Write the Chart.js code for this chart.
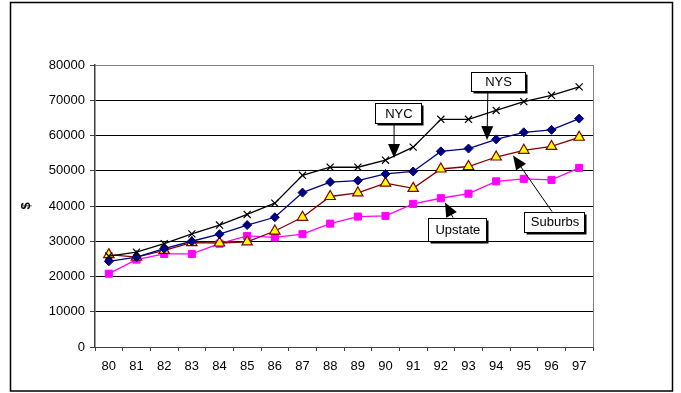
<!DOCTYPE html>
<html>
<head>
<meta charset="utf-8">
<script src="https://cdn.jsdelivr.net/npm/chart.js@4/dist/chart.umd.min.js"></script>
<style>
    body { margin: 0; background: #fff; }
    #wrap { width: 681px; height: 393px; }
</style>
</head>
<body>
<div id="wrap"><canvas id="income-chart" width="681" height="393"></canvas></div>
<script>
const years = ['80', '81', '82', '83', '84', '85', '86', '87', '88', '89', '90', '91', '92', '93', '94', '95', '96', '97'];

const nyc = [25800, 26900, 29300, 32100, 34600, 37600, 40800, 48700, 51000, 51000, 53000, 56700, 64600, 64600, 67100, 69600, 71400, 73800];
const nys = [24300, 25500, 27900, 30000, 32000, 34600, 36800, 43800, 46800, 47200, 49100, 49800, 55500, 56300, 58900, 60900, 61600, 64800];
const suburbs = [26200, 25500, 27400, 29600, 29500, 29800, 32900, 36800, 42700, 43700, 46500, 45000, 50500, 51200, 53900, 55800, 56900, 59500];
const upstate = [20800, 24800, 26400, 26400, 29300, 31500, 31100, 32000, 35000, 37000, 37200, 40600, 42200, 43500, 47000, 47700, 47400, 50800];

const yTicks = [0, 10000, 20000, 30000, 40000, 50000, 60000, 70000, 80000];

// callout boxes: box centre and arrow in data units (category index, value)
const callouts = [
    { text: 'NYC', box: [10.45, 66300], w: 46, h: 20, from: [10.31, 63500], to: [10.31, 53600] },
    { text: 'NYS', box: [14.05, 75200], w: 54, h: 19, from: [13.70, 72600], to: [13.67, 58700] },
    { text: 'Upstate', box: [12.58, 33400], w: 58, h: 23, from: [12.44, 36700], to: [12.15, 41000] },
    { text: 'Suburbs', box: [16.09, 35600], w: 60, h: 20, from: [16.02, 38400], to: [14.61, 54300] }
];

const FONT = "'Liberation Sans', Arial, sans-serif";

function arrow(ctx, x1, y1, x2, y2) {
    const ang = Math.atan2(y2 - y1, x2 - x1);
    const len = 14, half = 6;
    ctx.strokeStyle = '#000';
    ctx.lineWidth = 1;
    ctx.beginPath();
    ctx.moveTo(x1, y1);
    ctx.lineTo(x2 - Math.cos(ang) * len * 0.8, y2 - Math.sin(ang) * len * 0.8);
    ctx.stroke();
    ctx.fillStyle = '#000';
    ctx.beginPath();
    ctx.moveTo(x2, y2);
    ctx.lineTo(x2 - Math.cos(ang) * len - Math.sin(ang) * half, y2 - Math.sin(ang) * len + Math.cos(ang) * half);
    ctx.lineTo(x2 - Math.cos(ang) * len + Math.sin(ang) * half, y2 - Math.sin(ang) * len - Math.cos(ang) * half);
    ctx.closePath();
    ctx.fill();
}

const decorations = {
    id: 'decorations',
    beforeDraw(chart) {
        const ctx = chart.ctx;
        ctx.save();
        ctx.fillStyle = '#fff';
        ctx.fillRect(0, 0, chart.width, chart.height);
        // outer frame
        ctx.strokeStyle = '#000';
        ctx.lineWidth = 1.5;
        ctx.strokeRect(10.5, 2.5, 662, 388.5);
        ctx.restore();
    },
    afterDatasetsDraw(chart) {
        const ctx = chart.ctx;
        const a = chart.chartArea;
        const xs = chart.scales.x, ys = chart.scales.y;
        ctx.save();
        // right border of plot area
        ctx.strokeStyle = '#808080';
        ctx.lineWidth = 1;
        ctx.beginPath();
        ctx.moveTo(a.right + 0.5, a.top);
        ctx.lineTo(a.right + 0.5, a.bottom);
        ctx.stroke();

        // y title
        ctx.fillStyle = '#000';
        ctx.font = 'bold 13px ' + FONT;
        ctx.textAlign = 'center';
        ctx.textBaseline = 'middle';
        ctx.translate(26, (a.top + a.bottom) / 2);
        ctx.rotate(-Math.PI / 2);
        ctx.fillText('$', 0, 0);
        ctx.setTransform(1, 0, 0, 1, 0, 0);

        callouts.forEach(c => {
            const bx = xs.getPixelForValue(c.box[0]);
            const by = ys.getPixelForValue(c.box[1]);
            arrow(ctx, xs.getPixelForValue(c.from[0]), ys.getPixelForValue(c.from[1]),
                xs.getPixelForValue(c.to[0]), ys.getPixelForValue(c.to[1]));
            const l = Math.round(bx - c.w / 2) + 0.5, t = Math.round(by - c.h / 2) + 0.5;
            // shadow
            ctx.fillStyle = '#000';
            ctx.fillRect(l + 2, t + 2, c.w, c.h);
            ctx.fillStyle = '#fff';
            ctx.fillRect(l, t, c.w, c.h);
            ctx.strokeStyle = '#000';
            ctx.lineWidth = 1;
            ctx.strokeRect(l, t, c.w, c.h);
            ctx.fillStyle = '#000';
            ctx.font = '13px ' + FONT;
            ctx.textAlign = 'center';
            ctx.textBaseline = 'middle';
            ctx.fillText(c.text, bx + 1, by + 1);
        });
        ctx.restore();
    }
};

new Chart(document.querySelector('#income-chart').getContext('2d'), {
    type: 'line',
    data: {
        labels: years,
        datasets: [
            {
                label: 'NYC', data: nyc, borderColor: '#000', borderWidth: 1.3,
                pointStyle: 'crossRot', pointRadius: 5, pointBorderColor: '#000', pointBorderWidth: 1.2
            },
            {
                label: 'NYS', data: nys, borderColor: '#000080', borderWidth: 1.3,
                pointStyle: 'rectRot', pointRadius: 4.5, pointBackgroundColor: '#000080', pointBorderColor: '#000080', pointBorderWidth: 1
            },
            {
                label: 'Suburbs', data: suburbs, borderColor: '#800000', borderWidth: 1.3,
                pointStyle: 'triangle', pointRadius: 6, pointBackgroundColor: '#FFFF00', pointBorderColor: '#800000', pointBorderWidth: 1.2
            },
            {
                label: 'Upstate', data: upstate, borderColor: '#FF00FF', borderWidth: 1.3,
                pointStyle: 'rect', pointRadius: 5, pointBackgroundColor: '#FF00FF', pointBorderColor: '#FF00FF', pointBorderWidth: 1
            }
        ]
    },
    options: {
        responsive: false,
        animation: false,
        events: [],
        layout: { padding: { left: 0, right: 88, top: 65, bottom: 0 } },
        elements: { line: { tension: 0 } },
        plugins: {
            legend: { display: false },
            tooltip: { enabled: false }
        },
        scales: {
            x: {
                offset: true,
                afterFit: s => { s.height = 46; },
                grid: { offset: true, drawOnChartArea: false, tickLength: 4, color: '#404040' },
                border: { color: '#404040', width: 1 },
                ticks: { color: '#000', font: { family: FONT, size: 13 }, padding: 8, maxRotation: 0, autoSkip: false }
            },
            y: {
                min: 0,
                max: 80000,
                afterFit: s => { s.width = 95; },
                afterBuildTicks: s => { s.ticks = yTicks.map(v => ({ value: v })); },
                grid: {
                    color: c => c.tick && c.tick.value === 80000 ? '#808080' : '#000',
                    tickColor: '#404040',
                    tickLength: 5
                },
                border: { color: '#404040', width: 1.5 },
                ticks: { color: '#000', font: { family: FONT, size: 13 }, padding: 5, callback: v => String(v) }
            }
        }
    },
    plugins: [decorations]
});
</script>
</body>
</html>
